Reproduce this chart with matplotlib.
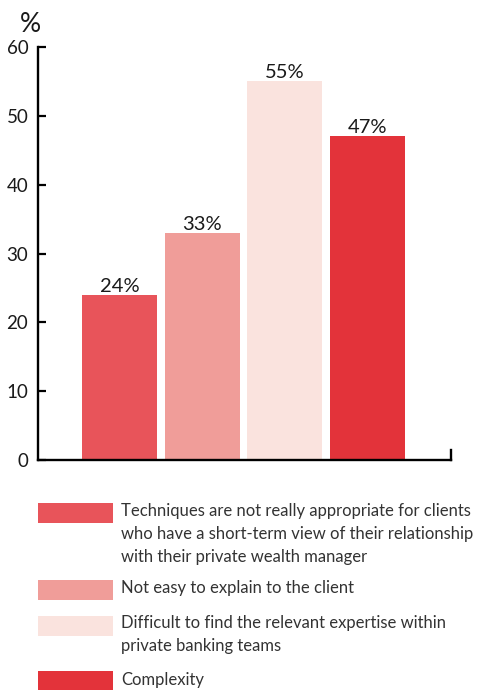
import matplotlib
matplotlib.use('Agg')
import matplotlib.pyplot as plt
from matplotlib.patches import Rectangle
from matplotlib.lines import Line2D

plt.rcParams['font.family'] = ['Lato', 'DejaVu Sans']

# data
categories = [
    'Techniques are not really appropriate for clients\nwho have a short-term view of their relationship\nwith their private wealth manager',
    'Not easy to explain to the client',
    'Difficult to find the relevant expertise within\nprivate banking teams',
    'Complexity',
]
values = [24, 33, 55, 47]
colors = ['#E8545A', '#F09D99', '#FAE3DE', '#E3333A']
yticks = [0, 10, 20, 30, 40, 50, 60]

W, H = 478, 690
fig = plt.figure(figsize=(W / 100, H / 100), dpi=100)
ax = fig.add_axes([38 / W, (H - 460) / H, (451 - 38) / W, (460 - 47) / H])

x = list(range(len(values)))
bars = ax.bar(x, values, width=0.907, color=colors, edgecolor='none')
for b, v in zip(bars, values):
    ax.annotate(f'{v}%', (b.get_x() + b.get_width() / 2, v), xytext=(0, 0),
                textcoords='offset points', ha='center', va='bottom',
                fontsize=14.5, color='#1a1a1a')

ax.set_xlim(-0.985, 4.01)
ax.set_ylim(0, 60)
ax.set_yticks(yticks)
ax.set_xticks([])
ax.tick_params(axis='y', direction='in', length=6, width=1.6, pad=7,
               labelsize=13.5, labelcolor='#1a1a1a')
for s in ['top', 'right']:
    ax.spines[s].set_visible(False)
for s in ['left', 'bottom']:
    ax.spines[s].set_linewidth(1.7)
    ax.spines[s].set_color('black')
# small end mark on the right of the baseline
ax.add_line(Line2D([1, 1], [0, 0.025], transform=ax.transAxes, color='black',
                   lw=1.7, clip_on=False))

fig.text(20 / W, 1 - 25 / H, '%', fontsize=19, color='#1a1a1a', va='center', ha='left')

# legend drawn by hand
patch_tops = [503, 580, 616, 671]
text_tops = [503, 580, 615, 672]
for top, ttop, c, lab in zip(patch_tops, text_tops, colors, categories):
    fig.add_artist(Rectangle((38 / W, 1 - (top + 20) / H), 75 / W, 20 / H,
                             transform=fig.transFigure, color=c, lw=0))
    fig.text(121 / W, 1 - ttop / H, lab, fontsize=12, color='#333333',
             va='top', ha='left', linespacing=1.55)

fig.savefig('out.png', dpi=100)
